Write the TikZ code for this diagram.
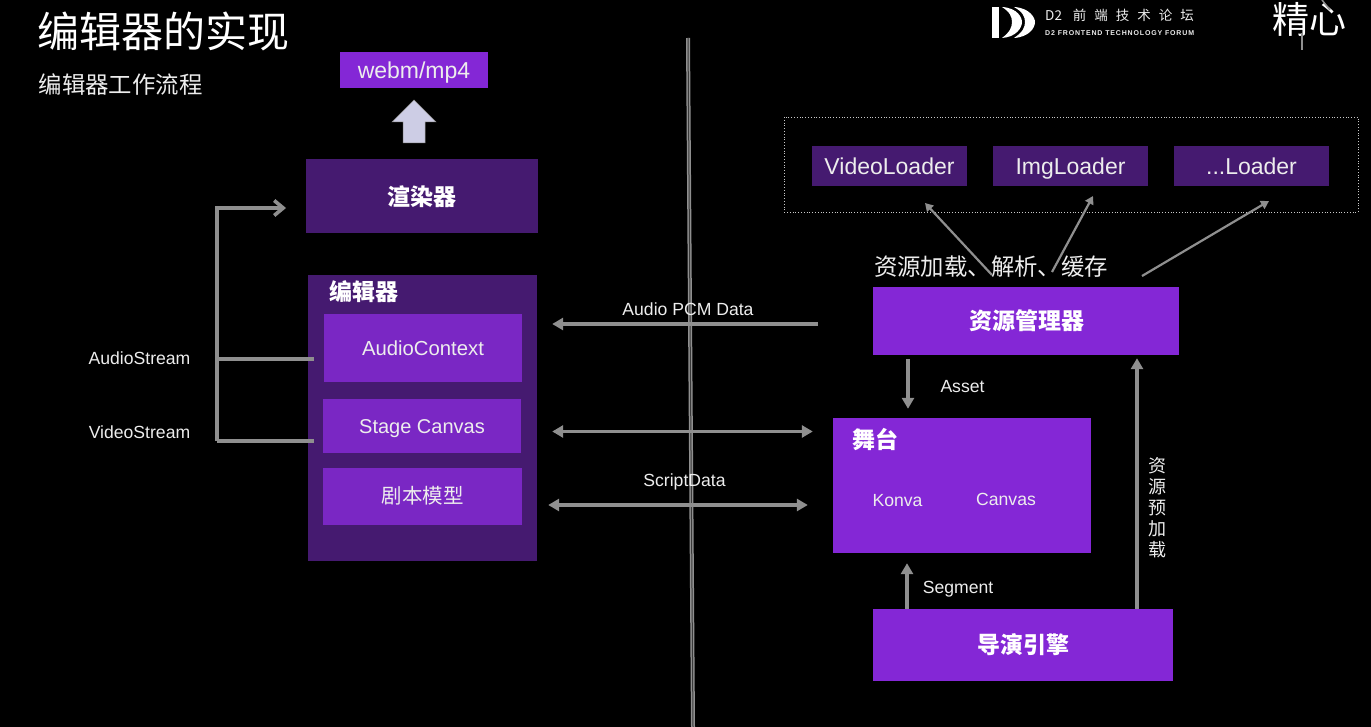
\documentclass[tikz,border=0pt]{standalone}
\usepackage{fontspec}
\setmainfont{Liberation Sans}
\newfontfamily\cjk{Noto Sans CJK SC}
\usetikzlibrary{arrows.meta}
\definecolor{brightpurple}{HTML}{8427D6}
\definecolor{innerpurple}{HTML}{7A27C4}
\definecolor{darkpurple}{HTML}{451A70}
\definecolor{linegray}{HTML}{8F8F8F}
\definecolor{textgray}{HTML}{EDEDED}
\newcommand\dotsloader{...Loader}
\tikzset{
    lat/.style={font=\fontsize{#1}{#1}\selectfont,text height=.72*#1pt,text depth=0pt},
    han/.style={font=\fontsize{#1}{#1}\selectfont\cjk,text height=.72*#1pt,text depth=0pt},
    box/.style={draw=none,inner sep=0pt,text=textgray,align=center},
    bright/.style={box,fill=brightpurple},
    inner/.style={box,fill=innerpurple},
    dark/.style={box,fill=darkpurple},
    lbl/.style={inner sep=0pt,text=textgray,lat=17.6},
    head/.style={font=\fontsize{23}{23}\selectfont\cjk\bfseries,text height=16.5pt,text depth=0pt,text=white,inner sep=0pt},
    flow/.style={draw=linegray,line width=3.6pt,-{Triangle[length=11pt,width=12pt]}},
    both/.style={draw=linegray,line width=3.6pt,{Triangle[length=11pt,width=12pt]}-{Triangle[length=11pt,width=12pt]}},
    thinflow/.style={draw=linegray,line width=2.2pt,-{Triangle[length=8pt,width=9pt]}},
    bus/.style={draw=linegray,line width=3.6pt},
}
\begin{document}
\begin{tikzpicture}[x=1pt,y=-1pt]
    \useasboundingbox[fill=black] (0,0) rectangle (1371,727);

    % title
    \node[inner sep=0pt,text=white,han=42] (title) at (163.5,32) {编辑器的实现};
    \node[inner sep=0pt,text=textgray,han=23.4] (subtitle) at (120.5,85) {编辑器工作流程};

    % logo
    \fill[white] (992,7) rectangle (999,38);
    \fill[white] (1002,7) .. controls (1018,8) and (1022,18) .. (1022,22) .. controls (1022,28) and (1016,37) .. (1002,38) .. controls (1010,32) and (1012,27) .. (1012,22) .. controls (1012,17) and (1010,12) .. (1002,7) -- cycle;
    \fill[white] (1014,7) .. controls (1030,8) and (1035,18) .. (1035,22) .. controls (1035,28) and (1029,37) .. (1014,38) .. controls (1023,32) and (1025,27) .. (1025,22) .. controls (1025,17) and (1023,12) .. (1014,7) -- cycle;
    \node[inner sep=0pt,anchor=west,text=textgray,han=13.5] (forum) at (1045,16) {D2\hspace{11pt}前\hspace{8pt}端\hspace{8pt}技\hspace{8pt}术\hspace{8pt}论\hspace{8pt}坛};
    \node[inner sep=0pt,anchor=west,text=textgray,lat=7,font=\fontsize{7}{8}\selectfont\bfseries\addfontfeatures{LetterSpace=12}] (forumen) at (1045,33) {D2 FRONTEND TECHNOLOGY FORUM};
    \node[inner sep=0pt,text=white,han=37] (jingxin) at (1309,20) {精心};
    \draw[draw=linegray,line width=1.5pt] (1302,33) -- (1302,50);
    \draw[draw=linegray,line width=1.5pt] (1322,0) -- (1330,10);

    % divider
    \coordinate (divtop) at (688,38);
    \coordinate (divbot) at (693,727);
    \draw[draw=linegray,line width=4pt] (divtop) -- (divbot);
    \draw[draw=black!60!linegray,line width=1pt] (divtop) -- (divbot);

    % output
    \node[bright,minimum width=148pt,minimum height=36pt,lat=23] (output) at (414,70) {webm/mp4};
    \fill[fill=white!88!blue!80!gray,draw=linegray,line width=.5pt] (403,143) -- (403,122) -- (392,122) -- (414,100) -- (436,122) -- (425,122) -- (425,143) -- cycle;
    \node[dark,minimum width=232pt,minimum height=74pt] (render) at (422,196) {};
    \node[head] (rendertxt) at (421.5,197) {渲染器};

    % editor
    \node[dark,minimum width=229pt,minimum height=286pt] (editor) at (422.5,418) {};
    \node[head] (editortxt) at (363.5,292) {编辑器};
    \node[inner,minimum width=198pt,minimum height=68pt,lat=20.3] (audioctx) at (423,348) {AudioContext};
    \node[inner,minimum width=198pt,minimum height=54pt,lat=20] (stagecanvas) at (422,426) {Stage Canvas};
    \node[inner,minimum width=199pt,minimum height=57pt,han=20.5] (script) at (422.5,496.5) {剧本模型};

    % streams
    \node[lbl] (audiolbl) at (139.5,358) {AudioStream};
    \node[lbl] (videolbl) at (139.5,432) {VideoStream};
    \coordinate (bustop) at (217,208);
    \coordinate (busa) at (217,359);
    \coordinate (busv) at (217,441);
    \draw[bus,-{Straight Barb[length=9pt,width=15pt]}] (busv) -- (bustop) -- (286,208);
    \draw[bus,shorten >=10pt] (busa) -- (audioctx.west |- busa);
    \draw[bus,shorten >=9pt] (busv) -- (stagecanvas.west |- busv);

    % loaders
    \draw[dotted,draw=textgray!85!black,line width=.8pt] (784,117) rectangle (1358,212);
    \foreach \name/\txt/\cx in {video/VideoLoader/889.5,img/ImgLoader/1070.5,any/\dotsloader/1251.5}{
        \node[dark,minimum width=155pt,minimum height=40pt,lat=23] (\name) at (\cx,166) {\txt};
    }

    % resources
    \node[bright,minimum width=306pt,minimum height=68pt] (resmgr) at (1026,321) {};
    \node[head] (resmgrtxt) at (1026.5,321) {资源管理器};
    \node[inner sep=0pt,text=textgray,han=23.4] (restxt) at (991,267) {资源加载、解析、缓存};
    \coordinate (basea) at (992,275);
    \coordinate (baseb) at (1052,272);
    \coordinate (basec) at (1142,276);
    \coordinate (tipa) at (925,203);
    \coordinate (tipb) at (1093,196);
    \coordinate (tipc) at (1269,201);
    \foreach \from/\to in {basea/tipa,baseb/tipb,basec/tipc}{
        \draw[thinflow] (\from) -- (\to);
    }

    % stage
    \node[bright,minimum width=258pt,minimum height=135pt] (stage) at (962,485.5) {};
    \node[head] (stagetxt) at (875,440) {舞台};
    \node[lbl] (konva) at (897.5,500) {Konva};
    \node[lbl] (canvas) at (1006,499) {Canvas};

    % director
    \node[bright,minimum width=300pt,minimum height=72pt] (director) at (1023,645) {};
    \node[head] (directortxt) at (1023,645) {导演引擎};

    % flows
    \coordinate (railpcm) at (0,324);
    \coordinate (railstage) at (0,431.5);
    \coordinate (railscript) at (0,505);
    \draw[flow,shorten <=55pt,shorten >=15pt] (resmgr.west |- railpcm) -- (editor.east |- railpcm);
    \draw[both,shorten <=15pt,shorten >=20pt] (editor.east |- railstage) -- (stage.west |- railstage);
    \draw[both,shorten <=11pt,shorten >=25pt] (editor.east |- railscript) -- (stage.west |- railscript);
    \node[lbl] (pcmlbl) at (688,309) {Audio PCM Data};
    \node[lbl] (scriptlbl) at (684.5,480) {ScriptData};

    \coordinate (assetx) at (908,0);
    \coordinate (segx) at (907,0);
    \coordinate (loadx) at (1137,0);
    \draw[flow,shorten <=4pt,shorten >=9pt] (resmgr.south -| assetx) -- (stage.north -| assetx);
    \draw[flow,shorten >=10pt] (director.north -| segx) -- (stage.south -| segx);
    \draw[flow,shorten >=3pt] (director.north -| loadx) -- (resmgr.south -| loadx);
    \node[lbl] (assetlbl) at (962.5,386) {Asset};
    \node[lbl] (seglbl) at (958,587) {Segment};
    \node[inner sep=0pt,text=textgray,align=center,font=\fontsize{18}{21}\selectfont\cjk] (preload) at (1157,507.5) {资\\源\\预\\加\\载};
\end{tikzpicture}
\end{document}
